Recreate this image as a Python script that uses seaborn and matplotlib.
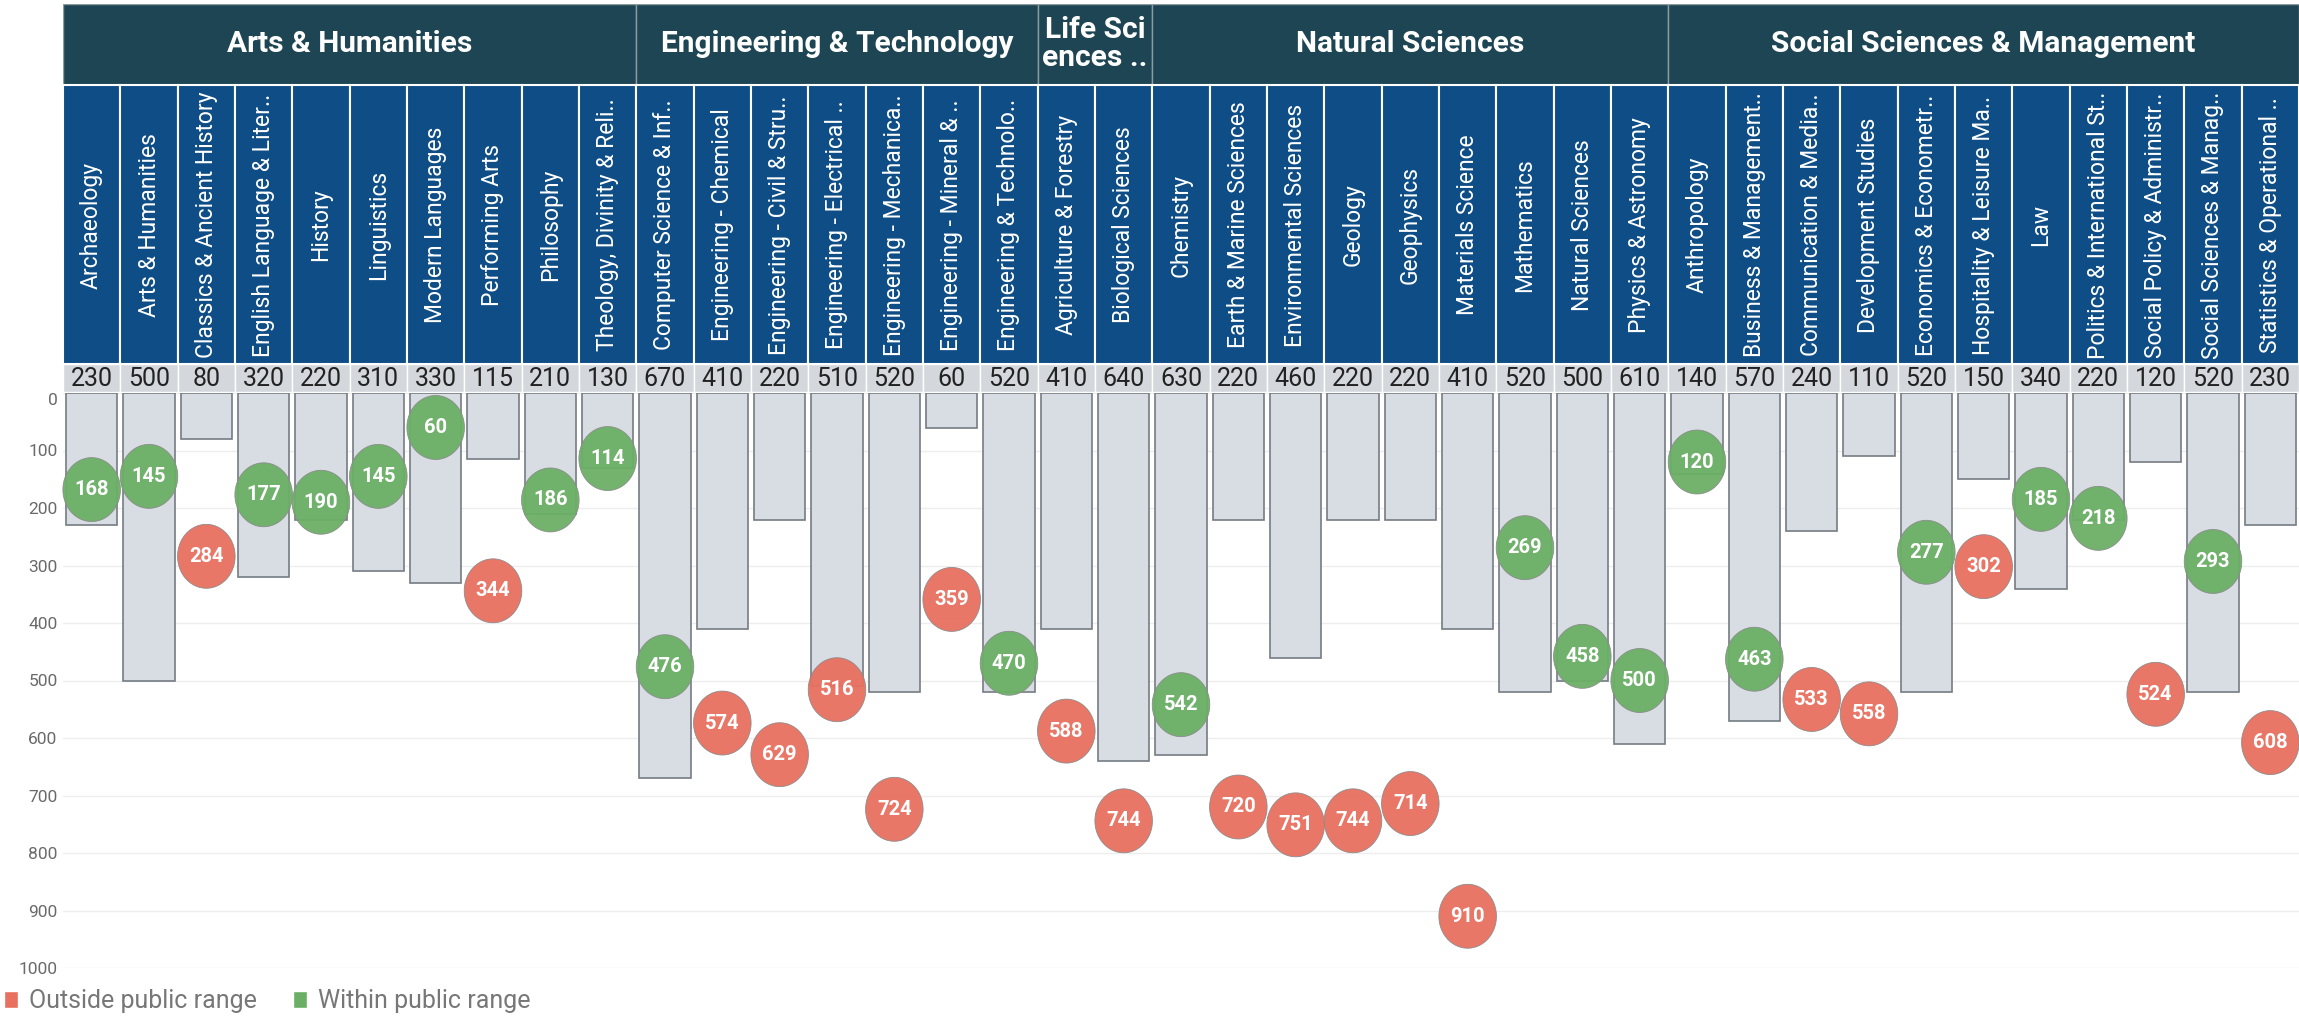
"""Subject score vs public range chart, grouped by broad subject area."""

import numpy as np
import pandas as pd
import matplotlib.pyplot as plt
import seaborn as sns
from matplotlib.path import Path
from matplotlib.patches import Patch

groups = ["Arts & Humanities", "Engineering & Technology", "Life Sci\nences ..",
          "Natural Sciences", "Social Sciences & Management"]
group_sizes = [10, 7, 2, 9, 11]

subjects = [
    "Archaeology", "Arts & Humanities", "Classics & Ancient History",
    "English Language & Liter..", "History", "Linguistics", "Modern Languages",
    "Performing Arts", "Philosophy", "Theology, Divinity & Reli..",
    "Computer Science & Inf..", "Engineering - Chemical",
    "Engineering - Civil & Stru..", "Engineering - Electrical ..",
    "Engineering - Mechanica..", "Engineering - Mineral & ..",
    "Engineering & Technolo..", "Agriculture & Forestry", "Biological Sciences",
    "Chemistry", "Earth & Marine Sciences", "Environmental Sciences", "Geology",
    "Geophysics", "Materials Science", "Mathematics", "Natural Sciences",
    "Physics & Astronomy", "Anthropology", "Business & Management..",
    "Communication & Media..", "Development Studies", "Economics & Econometr..",
    "Hospitality & Leisure Ma..", "Law", "Politics & International St..",
    "Social Policy & Administr..", "Social Sciences & Manag..",
    "Statistics & Operational ..",
]
limits = [230, 500, 80, 320, 220, 310, 330, 115, 210, 130,
          670, 410, 220, 510, 520, 60, 520,
          410, 640,
          630, 220, 460, 220, 220, 410, 520, 500, 610,
          140, 570, 240, 110, 520, 150, 340, 220, 120, 520, 230]
scores = [168, 145, 284, 177, 190, 145, 60, 344, 186, 114,
          476, 574, 629, 516, 724, 359, 470,
          588, 744,
          542, 720, 751, 744, 714, 910, 269, 458, 500,
          120, 463, 533, 558, 277, 302, 185, 218, 524, 293, 608]
OUT, IN = "Outside public range", "Within public range"
status = [IN, IN, OUT, IN, IN, IN, IN, OUT, IN, IN,
          IN, OUT, OUT, OUT, OUT, OUT, IN,
          OUT, OUT,
          IN, OUT, OUT, OUT, OUT, OUT, IN, IN, IN,
          IN, IN, OUT, OUT, IN, OUT, IN, IN, OUT, IN, OUT]

RED, GREEN = "#E8705F", "#6BAF66"
DARK, BLUE = "#1E4553", "#0E4D85"

n = len(subjects)
df = pd.DataFrame({"pos": np.arange(n), "subject": subjects, "limit": limits,
                   "score": scores, "status": status})

sns.set_theme(style="white")
plt.rcParams["font.family"] = ["Roboto", "DejaVu Sans"]

W, H = 2299, 1017
fig = plt.figure(figsize=(W / 100, H / 100), dpi=100)


def box(x0, y0, x1, y1):
    return [x0 / W, 1 - y1 / H, (x1 - x0) / W, (y1 - y0) / H]


ax = fig.add_axes(box(63, 393, 2299, 968))
axh = fig.add_axes(box(63, 4, 2299, 392), sharex=ax)

# bars for the public range limit
sns.barplot(data=df, x="pos", y="limit", color="#D8DCE3", saturation=1,
            width=0.9, edgecolor="#767C84", linewidth=1.2, ax=ax, zorder=2)

# circle marks, a little taller than wide as in the original
t = np.linspace(0, 2 * np.pi, 60)
blob = Path(np.column_stack([0.9 * np.cos(t), np.sin(t)]))
sns.scatterplot(data=df, x="pos", y="score", hue="status",
                palette={OUT: RED, IN: GREEN}, marker=blob, s=2120,
                edgecolor="#8a8a8a", linewidth=0.6, alpha=0.95, legend=False,
                ax=ax, zorder=3, clip_on=False)
for i, v in enumerate(scores):
    ax.text(i, v, str(v), ha="center", va="center", color="white",
            fontsize=14.5, fontweight="bold", zorder=4)

ax.set_xlim(-0.5, n - 0.5)
ax.set_ylim(1000, 0)
ax.set_yticks(range(0, 1001, 100))
ax.set_xticks([])
ax.set_xlabel("")
ax.set_ylabel("")
ax.tick_params(axis="y", length=0, pad=4, labelsize=12.5, labelcolor="#6a6a6a")
ax.get_yticklabels()[0].set_va("top")
ax.yaxis.grid(True, color="#EDEDED", lw=1)
ax.set_axisbelow(True)
sns.despine(ax=ax, left=True, bottom=True)

# header: group band, subject band, limit row
axh.set_ylim(392, 4)
axh.axis("off")
start = 0
for g, size in zip(groups, group_sizes):
    c = start + size / 2 - 0.5
    axh.bar(c, 81, bottom=4, width=size, color=DARK, edgecolor="#8A9CA2",
            linewidth=1)
    axh.text(c, 44, g, ha="center", va="center", color="white", fontsize=21.5,
             fontweight="bold", linespacing=1.0)
    start += size

axh.bar(df["pos"], 279, bottom=85, width=1, color=BLUE, edgecolor="white",
        linewidth=1.5)
axh.bar(df["pos"], 28, bottom=364, width=1, color="#D4D8DD",
        edgecolor="white", linewidth=1)
for i, (s, v) in enumerate(zip(subjects, limits)):
    axh.text(i, 225, s, rotation=90, ha="center", va="center", color="white",
             fontsize=16.5)
    axh.text(i, 378.5, str(v), ha="center", va="center", color="#222222",
             fontsize=18)

handles = [Patch(facecolor=RED, label=OUT), Patch(facecolor=GREEN, label=IN)]
fig.legend(handles=handles, loc="center left",
           bbox_to_anchor=(4 / W, 1 - 1001 / H), ncol=2, frameon=False,
           fontsize=18, handlelength=0.55, handleheight=0.7,
           handletextpad=0.45, columnspacing=1.45, borderpad=0,
           borderaxespad=0, labelcolor="#777777")

fig.savefig("out.png", dpi=100)
